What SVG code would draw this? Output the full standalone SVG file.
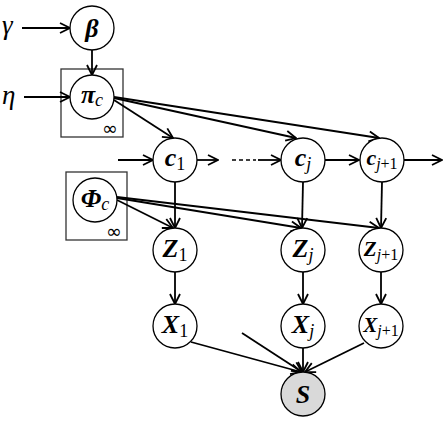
<svg xmlns="http://www.w3.org/2000/svg" width="447" height="421" viewBox="0 0 447 421">
<style>
  .nd{fill:#fff;stroke:#000;stroke-width:1.3}
  .obs{fill:#d9d9d9;stroke:#000;stroke-width:1.3}
  .box{fill:none;stroke:#333;stroke-width:1.3}
  .e{fill:none;stroke:#000;stroke-width:1.8;marker-end:url(#ah)}
  .dash{fill:none;stroke:#000;stroke-width:1.5;stroke-dasharray:4,3}
  text{font-family:"Liberation Serif","DejaVu Serif",serif;fill:#000}
  .v{font-weight:bold;font-style:italic;font-size:26px}
  .s{font-size:18px}
  .si{font-size:18px;font-style:italic}
  .h{font-style:italic;font-size:27px}
  .inf{font-family:"DejaVu Sans",sans-serif;font-size:19px}
</style>
<defs>
  <marker id="ah" markerUnits="userSpaceOnUse" markerWidth="13" markerHeight="13" viewBox="0 0 13 13" refX="12" refY="6.5" orient="auto">
    <path d="M2,1.5 L12,6.5 L2,11.5" fill="none" stroke="#000" stroke-width="1.8"/>
  </marker>
</defs>
<g id="hyper-gamma"><text class="h" x="2" y="34">γ</text></g>
<g id="hyper-eta"><text class="h" x="2" y="104">η</text></g>
<g id="plate-pi"><rect class="box" x="61" y="69" width="62" height="68"/><text class="inf" x="102" y="135">∞</text></g>
<g id="plate-phi"><rect class="box" x="66" y="172" width="61" height="68"/><text class="inf" x="106" y="238">∞</text></g>
<g id="connectors">
  <path class="e" d="M22,28 L70,28"/>
  <path class="e" d="M24,97 L70,97"/>
  <path class="e" d="M92,50 L92,75"/>
  <path class="e" d="M114,100 L173,138"/>
  <path class="e" d="M114,98 L296,138"/>
  <path class="e" d="M114,97 L379,138"/>
  <path class="e" d="M118,160 L153,160"/>
  <path class="e" d="M197,160 L218,160"/>
  <path class="dash" d="M232,160 L256,160"/>
  <path class="e" d="M258,160 L281,160"/>
  <path class="e" d="M325,160 L359,160"/>
  <path class="e" d="M404,160 L442,160"/>
  <path class="e" d="M175,182 L175,228"/>
  <path class="e" d="M303,182 L302,228"/>
  <path class="e" d="M382,182 L381,228"/>
  <path class="e" d="M117,200 L173,228"/>
  <path class="e" d="M117,198 L301,228"/>
  <path class="e" d="M117,197 L379,228"/>
  <path class="e" d="M175,272 L175,304"/>
  <path class="e" d="M303,272 L303,304"/>
  <path class="e" d="M381,272 L381,304"/>
  <path class="e" d="M191,342 L301,372"/>
  <path class="e" d="M242,333 L302,372"/>
  <path class="e" d="M303,348 L303,372"/>
  <path class="e" d="M364,343 L305,372"/>
</g>
<g id="node-beta"><circle class="nd" cx="92" cy="28" r="22"/><text x="92" y="37" text-anchor="middle"><tspan class="v">β</tspan></text></g>
<g id="node-pi"><circle class="nd" cx="92" cy="97" r="22"/><text x="92" y="103" text-anchor="middle"><tspan class="v">π</tspan><tspan class="si" dy="3">c</tspan></text></g>
<g id="node-phi"><circle class="nd" cx="95" cy="200" r="22"/><text x="95" y="207" text-anchor="middle"><tspan class="v">Φ</tspan><tspan class="si" dy="3">c</tspan></text></g>
<g id="node-c1"><circle class="nd" cx="175" cy="160" r="22"/><text x="175" y="166" text-anchor="middle"><tspan class="v">c</tspan><tspan class="s" dy="4">1</tspan></text></g>
<g id="node-cj"><circle class="nd" cx="303" cy="160" r="22"/><text x="303" y="166" text-anchor="middle"><tspan class="v">c</tspan><tspan class="si" dy="4">j</tspan></text></g>
<g id="node-cj1"><circle class="nd" cx="382" cy="160" r="22"/><text x="382" y="165" text-anchor="middle"><tspan class="v" style="font-size:22px">c</tspan><tspan class="si" dy="4" style="font-size:16px">j</tspan><tspan class="s" style="font-size:16px">+1</tspan></text></g>
<g id="node-z1"><circle class="nd" cx="175" cy="250" r="22"/><text x="175" y="257" text-anchor="middle"><tspan class="v">Z</tspan><tspan class="s" dy="4">1</tspan></text></g>
<g id="node-zj"><circle class="nd" cx="303" cy="250" r="22"/><text x="303" y="257" text-anchor="middle"><tspan class="v">Z</tspan><tspan class="si" dy="4">j</tspan></text></g>
<g id="node-zj1"><circle class="nd" cx="381" cy="250" r="22"/><text x="381" y="256" text-anchor="middle"><tspan class="v" style="font-size:21px">Z</tspan><tspan class="si" dy="4" style="font-size:16px">j</tspan><tspan class="s" style="font-size:16px">+1</tspan></text></g>
<g id="node-x1"><circle class="nd" cx="175" cy="326" r="22"/><text x="175" y="333" text-anchor="middle"><tspan class="v">X</tspan><tspan class="s" dy="4">1</tspan></text></g>
<g id="node-xj"><circle class="nd" cx="303" cy="326" r="22"/><text x="303" y="333" text-anchor="middle"><tspan class="v">X</tspan><tspan class="si" dy="4">j</tspan></text></g>
<g id="node-xj1"><circle class="nd" cx="381" cy="326" r="22"/><text x="381" y="332" text-anchor="middle"><tspan class="v" style="font-size:21px">X</tspan><tspan class="si" dy="4" style="font-size:16px">j</tspan><tspan class="s" style="font-size:16px">+1</tspan></text></g>
<g id="node-s"><circle class="obs" cx="303" cy="394" r="22"/><text x="303" y="403" text-anchor="middle"><tspan class="v">S</tspan></text></g>
</svg>
